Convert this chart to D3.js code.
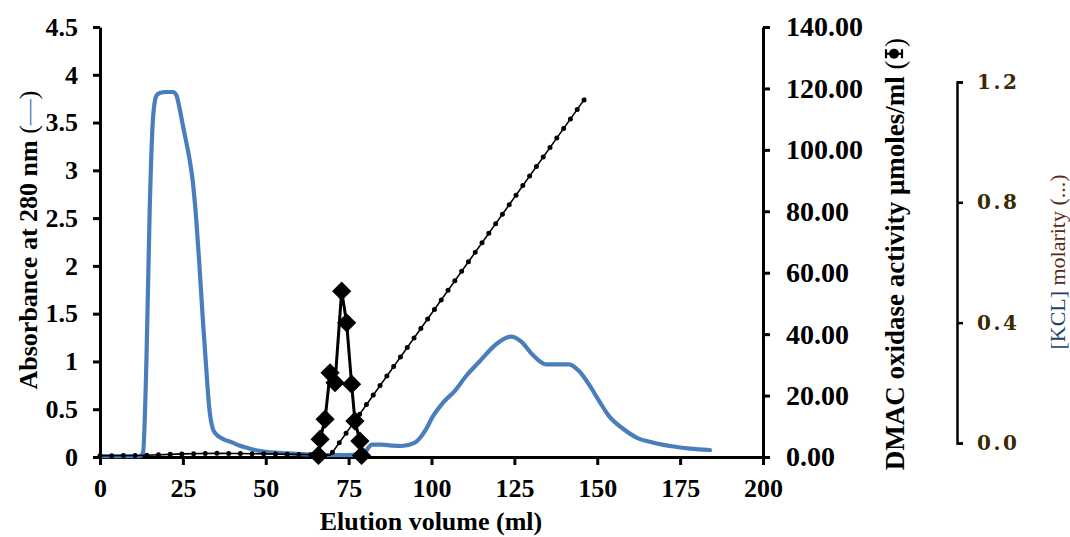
<!DOCTYPE html>
<html>
<head>
<meta charset="utf-8">
<script src="https://cdn.jsdelivr.net/npm/d3@7"></script>
<style>
  html, body { margin: 0; padding: 0; background: #fff; }
  svg { display: block; }
</style>
</head>
<body>
<svg id="chart" width="1070" height="537"></svg>
<script>
// ---------------- data ----------------
const xTicks = [0, 25, 50, 75, 100, 125, 150, 175, 200];
const absTicks = [0, 0.5, 1, 1.5, 2, 2.5, 3, 3.5, 4, 4.5];
const actTicks = [0, 20, 40, 60, 80, 100, 120, 140];
const kclTicks = [0, 0.4, 0.8, 1.2];

// Absorbance at 280 nm (blue line)
const absVolume = [0, 10, 12, 13, 14, 15, 16, 17, 18, 20, 22, 23, 24, 25, 26, 27, 28, 29, 30, 31, 32, 33, 34, 35, 37, 40, 42, 45, 47, 50, 53, 57, 61, 65, 70, 75, 78, 80, 81, 82, 85, 88, 91, 95, 98, 100.5, 103.5, 107, 110.5, 114.5, 119.5, 124, 127, 130.5, 134.5, 138.5, 141.5, 144.5, 147.5, 150.5, 153.5, 158, 162, 167, 173, 178, 184];
const absValue  = [0.01, 0.01, 0.01, 0.05, 1.0, 2.6, 3.55, 3.78, 3.81, 3.82, 3.82, 3.79, 3.65, 3.47, 3.3, 3.12, 2.88, 2.5, 2.0, 1.45, 0.95, 0.5, 0.3, 0.24, 0.19, 0.15, 0.12, 0.09, 0.07, 0.055, 0.045, 0.037, 0.03, 0.022, 0.02, 0.02, 0.025, 0.05, 0.1, 0.13, 0.13, 0.12, 0.115, 0.15, 0.27, 0.43, 0.57, 0.69, 0.85, 1.0, 1.18, 1.26, 1.21, 1.07, 0.97, 0.97, 0.97, 0.9, 0.76, 0.59, 0.43, 0.29, 0.2, 0.15, 0.11, 0.087, 0.073];

// DMAC oxidase activity (black diamonds)
const actVolume = [65.9, 66.4, 67.9, 69.4, 70.9, 72.9, 74.4, 75.9, 76.9, 78.4, 78.9];
const actValue  = [0.5, 5.8, 12.3, 27.4, 24.2, 54.0, 43.7, 23.7, 11.7, 5.2, 0.5];

// KCl molarity (dotted line)
const kclVolume = [0, 12, 25, 35, 50, 62, 69.5, 146.5];
const kclValue  = [0.004, 0.005, 0.01, 0.012, 0.01, 0.008, 0.006, 1.15];

// ---------------- layout ----------------
const svg = d3.select("#chart");
const X0 = 100, X1 = 763, Y0 = 457, YT = 27;
const SERIF = "'Liberation Serif', 'Times New Roman', serif";

const x = d3.scaleLinear().domain([0, 200]).range([X0, X1]);
const yAbs = d3.scaleLinear().domain([0, 4.5]).range([Y0, YT]);
const yAct = d3.scaleLinear().domain([0, 140]).range([Y0, YT]);
const yKclLine = d3.scaleLinear().domain([0, 1.2]).range([Y0, 82]);
const yKclAxis = d3.scaleLinear().domain([0, 1.2]).range([443, 82]);

const blue = "#4a7ebb";

// ---------------- axes ----------------
const gL = svg.append("g").attr("transform", `translate(${X0},0)`);
gL.call(d3.axisLeft(yAbs).tickValues(absTicks).tickSize(7).tickSizeOuter(0).tickPadding(15)
  .tickFormat(d => d3.format("")(d)));
const gB = svg.append("g").attr("transform", `translate(0,${Y0})`);
gB.call(d3.axisBottom(x).tickValues(xTicks).tickSize(8).tickSizeOuter(0).tickPadding(14));
const gR = svg.append("g").attr("transform", `translate(${X1},0)`);
gR.call(d3.axisRight(yAct).tickValues(actTicks).tickSize(7).tickSizeOuter(0).tickPadding(16)
  .tickFormat(d3.format(".2f")));
const gK = svg.append("g").attr("transform", `translate(957,0)`);
gK.call(d3.axisRight(yKclAxis).tickValues(kclTicks).tickSize(6).tickSizeOuter(6).tickPadding(14)
  .tickFormat(d3.format(".1f")));

[gL, gB, gR, gK].forEach(g => {
  g.selectAll(".domain").attr("stroke", "#000").attr("stroke-width", 3);
  g.selectAll(".tick line").attr("stroke", "#000").attr("stroke-width", 3);
  g.selectAll("text").attr("fill", "#000")
    .style("font-size", "26px").style("font-family", SERIF).style("font-weight", "bold");
});
gR.selectAll("text").style("font-size", "28px");
gK.selectAll(".domain").attr("stroke-width", 2.5);
gK.selectAll(".tick line").attr("stroke-width", 2.5);
gK.selectAll("text").attr("fill", "#3b2a00")
  .style("font-size", "20px").style("font-family", "'DejaVu Serif', serif")
  .style("font-weight", "bold").style("letter-spacing", "2.5px");
gB.selectAll("text").attr("dy", "0.71em");

// ---------------- series ----------------
const absData = absVolume.map((v, i) => [v, absValue[i]]);
const kclData = kclVolume.map((v, i) => [v, kclValue[i]]);
const actData = actVolume.map((v, i) => [v, actValue[i]]);

svg.append("path").datum(absData)
  .attr("fill", "none").attr("stroke", blue).attr("stroke-width", 4.2)
  .attr("stroke-linejoin", "round").attr("stroke-linecap", "round")
  .attr("d", d3.line().x(d => x(d[0])).y(d => yAbs(d[1])).curve(d3.curveMonotoneX));

const kclLine = d3.line().x(d => x(d[0])).y(d => yKclLine(d[1]));
svg.append("path").datum(kclData)
  .attr("fill", "none").attr("stroke", "#000").attr("stroke-width", 1.6)
  .attr("d", kclLine);
svg.append("path").datum(kclData)
  .attr("fill", "none").attr("stroke", "#000").attr("stroke-width", 5)
  .attr("stroke-linecap", "round").attr("stroke-dasharray", "0 11.7")
  .attr("d", kclLine);

svg.append("path").datum(actData)
  .attr("fill", "none").attr("stroke", "#000").attr("stroke-width", 3)
  .attr("d", d3.line().x(d => x(d[0])).y(d => yAct(d[1])));
svg.append("g").selectAll("path").data(actData).join("path")
  .attr("d", d3.symbol().type(d3.symbolSquare).size(185))
  .attr("transform", d => `translate(${x(d[0])},${yAct(d[1])}) rotate(45)`)
  .attr("fill", "#000");

// ---------------- titles ----------------
function styled(sel, size, weight) {
  return sel.style("font-family", SERIF).style("font-size", size + "px").style("font-weight", weight);
}

styled(svg.append("text"), 26, "bold").attr("x", 431).attr("y", 530)
  .attr("text-anchor", "middle").text("Elution volume (ml)");

const tL = styled(svg.append("text"), 26, "bold")
  .attr("transform", `translate(37,240) rotate(-90)`).attr("text-anchor", "middle");
tL.append("tspan").text("Absorbance at 280 nm ");
tL.append("tspan").style("font-weight", "normal").text("(");
tL.append("tspan").style("font-weight", "normal").attr("fill", blue).text("—");
tL.append("tspan").style("font-weight", "normal").text(")");

const rTop = 38;
const tR = styled(svg.append("text"), 27, "bold")
  .attr("transform", `translate(904,${rTop}) rotate(-90)`).attr("text-anchor", "end");
tR.append("tspan").text("DMAC oxidase activity μmoles/ml ");
tR.append("tspan").style("font-weight", "normal").text("(");
const spacer = tR.append("tspan").attr("fill", "#fff").text("\u2002");
const closeP = tR.append("tspan").style("font-weight", "normal").text(")");
const a = closeP.node().getComputedTextLength();
const b = spacer.node().getComputedTextLength();
const symY = rTop + a + b / 2;

const sym = svg.append("g").attr("transform", `translate(894,${symY})`);
sym.append("line").attr("x1", -8).attr("x2", 8).attr("y1", 0).attr("y2", 0).attr("stroke", "#000").attr("stroke-width", 2.2);
sym.append("line").attr("x1", -8).attr("x2", -8).attr("y1", -4.5).attr("y2", 4.5).attr("stroke", "#000").attr("stroke-width", 2.2);
sym.append("line").attr("x1", 8).attr("x2", 8).attr("y1", -4.5).attr("y2", 4.5).attr("stroke", "#000").attr("stroke-width", 2.2);
sym.append("circle").attr("r", 5).attr("fill", "#000");

const tK = styled(svg.append("text"), 21, "normal")
  .attr("transform", `translate(1065,262) rotate(-90)`).attr("text-anchor", "middle")
  .attr("textLength", 175).attr("lengthAdjust", "spacingAndGlyphs");
tK.append("tspan").attr("fill", "#243e6e").text("[KCL] ");
tK.append("tspan").attr("fill", "#5a2a12").text("molarity (...)");
</script>
</body>
</html>
